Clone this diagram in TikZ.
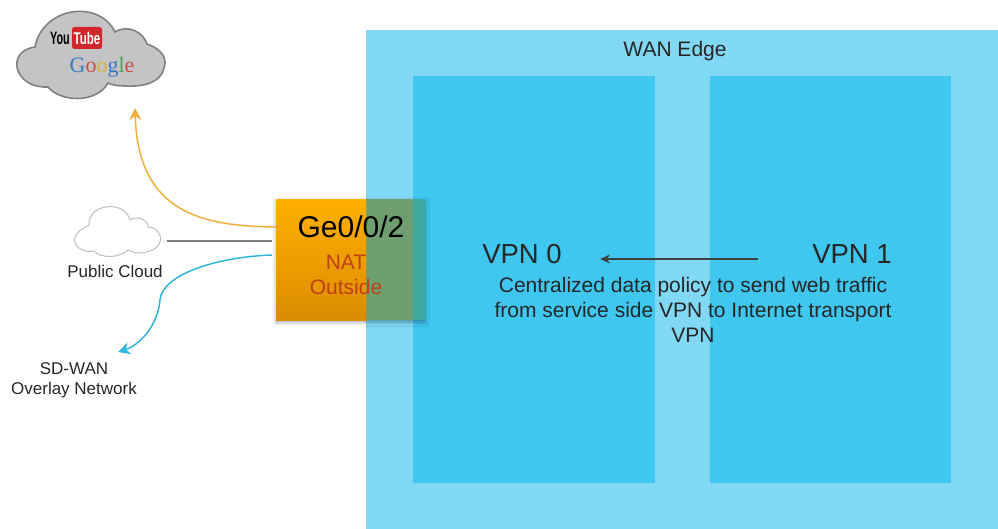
\documentclass[tikz,border=0pt]{standalone}
\usepackage{fontspec}
\setmainfont{Liberation Sans}
\newfontfamily\googlefont{Liberation Serif}
\usepackage{graphicx}
\usepackage{tikz}
\usetikzlibrary{arrows.meta,positioning,calc,shadows.blur}
\definecolor{wanblue}{HTML}{80D8F5}
\definecolor{vpnblue}{HTML}{40C7F0}
\definecolor{natgreen}{HTML}{6F9F70}
\definecolor{natteal}{HTML}{3FA9A0}
\definecolor{natred}{HTML}{BF4018}
\definecolor{nattop}{HTML}{FFB000}
\definecolor{natbottom}{HTML}{DB8C00}
\definecolor{cloudgray}{HTML}{C4C4C6}
\definecolor{arroworange}{HTML}{F2AE3D}
\definecolor{arrowblue}{HTML}{2FB5DA}
\definecolor{tubered}{HTML}{D0262C}
\definecolor{gblue}{HTML}{3C78C0}
\definecolor{gred}{HTML}{C85040}
\definecolor{gyellow}{HTML}{E0B030}
\definecolor{ggreen}{HTML}{50A050}
\tikzstyle{vpnbox}=[fill=vpnblue,draw=none,inner sep=0pt,anchor=north west]
\tikzstyle{textlabel}=[inner sep=0pt,align=center,text=black!85]
\tikzstyle{small}=[textlabel,font=\fontsize{17}{20}\selectfont]
\tikzstyle{big}=[textlabel,font=\fontsize{27.5}{30}\selectfont]
\tikzstyle{natlabel}=[inner sep=0pt,align=center,text=natred,font=\fontsize{21}{25}\selectfont]
\tikzstyle{natpart}=[inner sep=0pt,anchor=north west,minimum height=121pt]
\tikzstyle{link}=[line width=1.5pt]
\begin{document}
\begin{tikzpicture}[x=1pt,y=-1pt]
\useasboundingbox (0,0) rectangle (998,529);
\node [fill=wanblue,inner sep=0pt,anchor=north west,minimum width=632pt,minimum height=499pt] (wan) at (366,30) {};
\node [vpnbox,minimum width=242pt,minimum height=407pt] (vpnzero) at (413,76) {};
\node [vpnbox,minimum width=241pt,minimum height=407pt] (vpnone) at (710,76) {};
\node [textlabel,font=\fontsize{21}{24}\selectfont] (wanlabel) at (675,51) {WAN Edge};
\node [natpart,minimum width=149pt,fill=natgreen,blur shadow={shadow xshift=0pt,shadow yshift=-2pt,shadow blur radius=4pt,shadow opacity=35}] (natbox) at (276,199) {};
\node [natpart,minimum width=90pt,top color=nattop,bottom color=natbottom] (natleft) at (276,199) {};
\node [natpart,minimum width=12pt,fill=natteal] (natedge) at (413,199) {};
\node [big,text=black,font=\fontsize{30}{34}\selectfont] (ge) at (351,227) {Ge0/0/2};
\node [natlabel] (nat) at (346,275) {NAT\\Outside};
\node [big] (vpnzerolabel) at (522,254) {VPN 0};
\node [big] (vpnonelabel) at (852,254) {VPN 1};
\node [textlabel,font=\fontsize{21}{25}\selectfont] (policy) at (693,310) {Centralized data policy to send web traffic\\from service side VPN to Internet transport\\VPN};
\coordinate (vpnonestart) at (758,259);
\coordinate (vpnzeroend) at (600,259);
\draw [-{Stealth[length=10pt,width=9pt]},link,black!75] (vpnonestart) -- (vpnzeroend);
\draw [fill=cloudgray,draw=black!50,line width=1.6pt] (35,47) .. controls (42,8) and (98,-2) .. (115,32) .. controls (128,24) and (143,32) .. (147,44) .. controls (164,50) and (167,60) .. (164,68) .. controls (161,82) and (145,87) .. (125,86) .. controls (118,86) and (112,85) .. (108,83) .. controls (96,104) and (60,102) .. (48,87) .. controls (25,88) and (15,72) .. (17,62) .. controls (18,52) and (28,48) .. (35,47) -- cycle;
\node [inner sep=0pt,font=\fontsize{18}{20}\selectfont\bfseries] (you) at (60,38.5) {\scalebox{.6}[1]{You}};
\node [fill=tubered,text=white,rounded corners=2.5pt,inner sep=0pt,minimum width=30pt,minimum height=22pt,font=\fontsize{17}{20}\selectfont\bfseries] (tube) at (87,38) {\scalebox{.68}[1]{Tube}};
\node [inner sep=0pt,font=\fontsize{22}{24}\googlefont] (googlelabel) at (102,67) {\textcolor{gblue}{G}\textcolor{gred}{o}\textcolor{gyellow}{o}\textcolor{gblue}{g}\textcolor{ggreen}{l}\textcolor{gred}{e}};
\draw [fill=white,draw=black!25,line width=1pt] (89,225) .. controls (88,203) and (125,200) .. (130,220) .. controls (138,215) and (148,220) .. (148,227) .. controls (160,226) and (168,245) .. (150,251) .. controls (138,255) and (132,252) .. (128,250) .. controls (118,259) and (100,258) .. (94,251) .. controls (78,254) and (62,238) .. (89,225) -- cycle;
\node [small] (public) at (115,271) {Public Cloud};
\node [small] (overlay) at (74,380) {SD-WAN\\Overlay Network};
\coordinate (cloudright) at (167,241);
\coordinate (natgray) at (272,241);
\coordinate (natblue) at (272,255);
\coordinate (googleend) at (135,108);
\coordinate (overlayend) at (118,352);
\draw [link,draw=black!50] (cloudright) -- (natgray);
\draw [link,draw=arroworange,-{Stealth[length=12pt,width=12pt]}] (natleft.west |- 0,227) .. controls (205,226) and (138,215) .. (googleend);
\draw [link,draw=arrowblue,-{Stealth[length=12pt,width=12pt]}] (natblue) .. controls (215,257) and (162,275) .. (160,300) .. controls (158,325) and (140,345) .. (overlayend);
\end{tikzpicture}
\end{document}
